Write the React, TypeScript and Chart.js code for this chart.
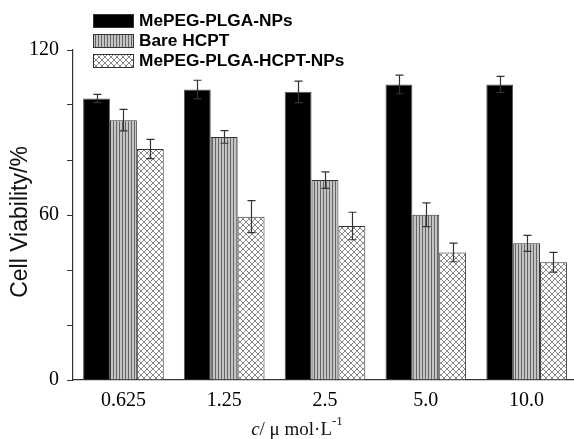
import React, { useEffect, useRef } from "react";
import { Chart, registerables } from "chart.js";

Chart.register(...registerables);

const categories = ["0.625", "1.25", "2.5", "5.0", "10.0"];
const seriesLabels = ["MePEG-PLGA-NPs", "Bare HCPT", "MePEG-PLGA-HCPT-NPs"];
const npsValues = [102.4, 105.6, 104.8, 107.5, 107.5];
const npsErrors = [1.5, 3.4, 3.9, 3.4, 2.9];
const hcptValues = [94.5, 88.4, 72.7, 60.1, 49.7];
const hcptErrors = [3.9, 2.3, 3.0, 4.3, 2.9];
const hcptNpsValues = [84.0, 59.4, 56.0, 46.4, 42.8];
const hcptNpsErrors = [3.5, 5.8, 5.0, 3.4, 3.6];
const yMin = 0;
const yMax = 120;
const yStep = 20;
const yLabelStep = 60;

const SERIF = "'Liberation Serif', 'Times New Roman', serif";
const SANS = "'Liberation Sans', Arial, sans-serif";

function makeStripePattern(ctx: CanvasRenderingContext2D) {
  const c = document.createElement("canvas");
  c.width = 3;
  c.height = 3;
  const p = c.getContext("2d")!;
  p.fillStyle = "#c4c4c4";
  p.fillRect(0, 0, 3, 3);
  p.fillStyle = "#666666";
  p.fillRect(2, 0, 1, 3);
  return ctx.createPattern(c, "repeat")!;
}

function makeCrossPattern(ctx: CanvasRenderingContext2D) {
  const c = document.createElement("canvas");
  c.width = 6;
  c.height = 6;
  const p = c.getContext("2d")!;
  p.fillStyle = "#ffffff";
  p.fillRect(0, 0, 6, 6);
  p.strokeStyle = "#8a8a8a";
  p.lineWidth = 1;
  p.beginPath();
  p.moveTo(-1, -1);
  p.lineTo(7, 7);
  p.moveTo(7, -1);
  p.lineTo(-1, 7);
  p.stroke();
  return ctx.createPattern(c, "repeat")!;
}

const errorBarPlugin = {
  id: "errorBars",
  afterDatasetsDraw(chart: any) {
    const ctx = chart.ctx;
    const yScale = chart.scales.y;
    ctx.save();
    ctx.strokeStyle = "#333";
    ctx.lineWidth = 1.2;
    chart.data.datasets.forEach((ds: any, i: number) => {
      const meta = chart.getDatasetMeta(i);
      meta.data.forEach((bar: any, j: number) => {
        const v = ds.data[j];
        const e = ds.errors[j];
        const x = Math.round(bar.x) + 0.5;
        const yt = yScale.getPixelForValue(v + e);
        const yb = yScale.getPixelForValue(v - e);
        ctx.beginPath();
        ctx.moveTo(x, yt);
        ctx.lineTo(x, yb);
        ctx.moveTo(x - 4, yt);
        ctx.lineTo(x + 4, yt);
        ctx.moveTo(x - 4, yb);
        ctx.lineTo(x + 4, yb);
        ctx.stroke();
      });
    });
    ctx.restore();
  },
};

const legendPlugin = {
  id: "customLegend",
  afterDraw(chart: any) {
    const ctx = chart.ctx;
    const left = 93;
    const tops = [14, 34, 54];
    const boxW = 40;
    const boxH = 13;
    ctx.save();
    chart.data.datasets.forEach((ds: any, i: number) => {
      const top = tops[i];
      ctx.fillStyle = ds.backgroundColor;
      ctx.fillRect(left, top, boxW, boxH);
      ctx.strokeStyle = "#333";
      ctx.lineWidth = 1;
      ctx.strokeRect(left + 0.5, top + 0.5, boxW, boxH);
      ctx.fillStyle = "#000";
      ctx.font = `bold 16px ${SANS}`;
      ctx.textBaseline = "middle";
      ctx.textAlign = "left";
      ctx.save();
      ctx.translate(left + boxW + 6, top + boxH / 2 + 1);
      ctx.scale(1.08, 1);
      ctx.fillText(ds.label, 0, 0);
      ctx.restore();
    });
    ctx.restore();
  },
};

const titlesPlugin = {
  id: "axisTitles",
  afterDraw(chart: any) {
    const ctx = chart.ctx;
    ctx.save();
    ctx.fillStyle = "#111";
    ctx.font = `23px ${SANS}`;
    ctx.textAlign = "center";
    ctx.textBaseline = "middle";
    ctx.translate(21, 222);
    ctx.rotate(-Math.PI / 2);
    ctx.fillText("Cell Viability/%", 0, 0);
    ctx.restore();

    ctx.save();
    ctx.fillStyle = "#111";
    ctx.textBaseline = "alphabetic";
    ctx.textAlign = "left";
    const parts = [
      { t: "c", f: `italic 19px ${SERIF}`, dy: 0 },
      { t: "/ μ mol·L", f: `19px ${SERIF}`, dy: 0 },
      { t: "-1", f: `13px ${SERIF}`, dy: -10 },
    ];
    let total = 0;
    parts.forEach((p) => {
      ctx.font = p.f;
      total += ctx.measureText(p.t).width;
    });
    let x = 297 - total / 2;
    const base = 435;
    parts.forEach((p) => {
      ctx.font = p.f;
      ctx.fillText(p.t, x, base + p.dy);
      x += ctx.measureText(p.t).width;
    });
    ctx.restore();
  },
};

export default function App() {
  const ref = useRef<HTMLCanvasElement>(null);

  useEffect(() => {
    const canvas = ref.current!;
    const ctx = canvas.getContext("2d")!;
    const stripe = makeStripePattern(ctx);
    const cross = makeCrossPattern(ctx);

    const chart = new Chart(canvas, {
      type: "bar",
      data: {
        labels: categories,
        datasets: [
          {
            label: seriesLabels[0],
            data: npsValues,
            errors: npsErrors,
            backgroundColor: "#000000",
            borderColor: "#555",
            borderWidth: 1,
          } as any,
          {
            label: seriesLabels[1],
            data: hcptValues,
            errors: hcptErrors,
            backgroundColor: stripe,
            borderColor: "#333",
            borderWidth: 1,
          } as any,
          {
            label: seriesLabels[2],
            data: hcptNpsValues,
            errors: hcptNpsErrors,
            backgroundColor: cross,
            borderColor: "#333",
            borderWidth: 1,
          } as any,
        ],
      },
      options: {
        responsive: false,
        animation: false,
        events: [],
        layout: { padding: { top: 50, right: 13, left: 0, bottom: 0 } },
        datasets: {
          bar: { categoryPercentage: 0.8, barPercentage: 1.0 },
        },
        plugins: {
          legend: { display: false },
          tooltip: { enabled: false },
          title: { display: false },
        },
        scales: {
          x: {
            grid: { drawOnChartArea: false, drawTicks: false },
            border: { display: true, color: "#333", width: 1.2 },
            ticks: {
              color: "#000",
              font: { family: SERIF, size: 20 },
              padding: 9,
              maxRotation: 0,
            },
            afterFit: (s: any) => {
              s.height = 59;
            },
          },
          y: {
            min: yMin,
            max: yMax,
            grid: {
              drawOnChartArea: false,
              drawTicks: true,
              tickLength: 6,
              color: "#333",
            },
            border: { display: true, color: "#333", width: 1.2 },
            ticks: {
              stepSize: yStep,
              color: "#000",
              font: { family: SERIF, size: 20 },
              padding: 8,
              callback: (v: any) => (Number(v) % yLabelStep === 0 ? String(v) : ""),
            },
            afterFit: (s: any) => {
              s.width = 73;
            },
          },
        },
      } as any,
      plugins: [errorBarPlugin, legendPlugin, titlesPlugin],
    });
    return () => chart.destroy();
  }, []);

  return (
    <div
      style={{
        position: "fixed",
        left: 0,
        top: 0,
        width: 574,
        height: 439,
        overflow: "hidden",
        background: "#fff",
      }}
    >
      <canvas ref={ref} width={590} height={439} style={{ display: "block" }} />
    </div>
  );
}
